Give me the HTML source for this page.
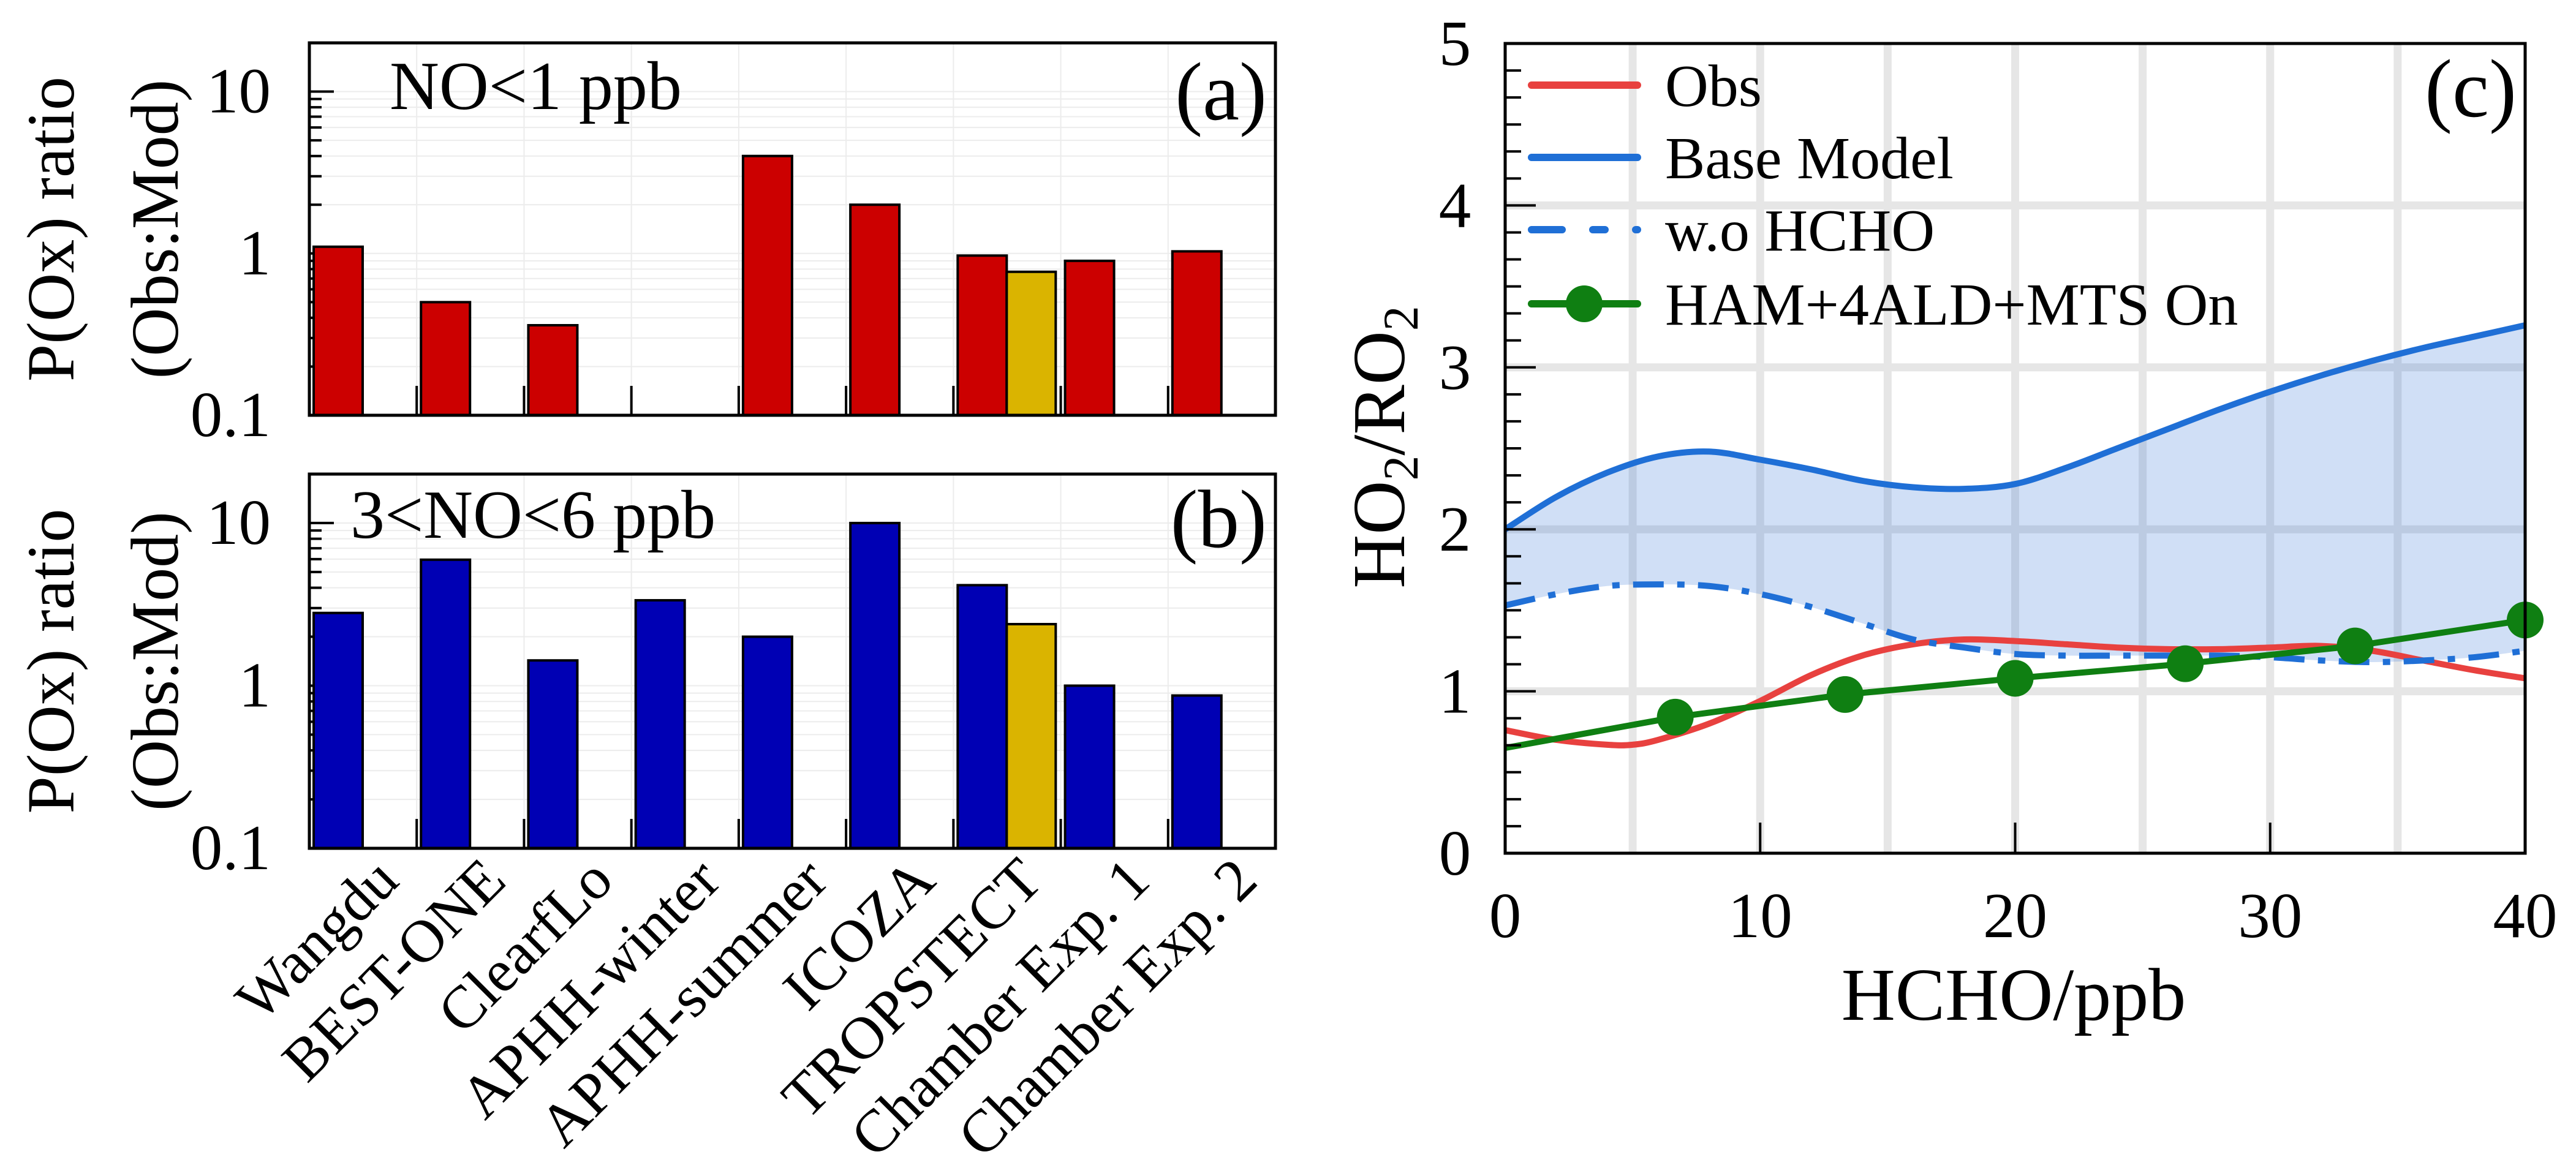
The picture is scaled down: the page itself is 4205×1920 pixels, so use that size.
<!DOCTYPE html>
<html><head><meta charset="utf-8"><style>
html,body{margin:0;padding:0;background:#fff;overflow:hidden}
svg{display:block;font-family:"Liberation Serif",serif}
</style></head><body>
<svg id="c" width="4205" height="1920" viewBox="0 0 4205 1920" xmlns="http://www.w3.org/2000/svg"></svg>
<script>
const categories=["Wangdu","BEST-ONE","ClearfLo","APHH-winter","APHH-summer","ICOZA","TROPSTECT","Chamber Exp. 1","Chamber Exp. 2"];
const ratioLowNO=[1.1,0.5,0.36,null,4.0,2.0,0.97,0.9,1.03];
const ratioMidNO=[2.8,5.95,1.43,3.35,2.0,10,4.15,1.0,0.87];
const extraLowNO=[null,null,null,null,null,null,0.77,null,null];
const extraMidNO=[null,null,null,null,null,null,2.39,null,null];
const logTicks=[0.1,1,10];
const logTickLabels=["0.1","1","10"];

const hchoX=[0,2,4,6,8,10,12,14,16,18,20,22,24,26,28,30,32,34,36,38,40];
const baseModel=[2.0,2.2,2.35,2.45,2.48,2.43,2.37,2.3,2.26,2.25,2.28,2.38,2.5,2.62,2.74,2.85,2.95,3.04,3.12,3.19,3.26];
const woHCHO=[1.53,1.6,1.65,1.66,1.65,1.6,1.52,1.42,1.32,1.27,1.23,1.22,1.22,1.22,1.22,1.21,1.19,1.18,1.19,1.21,1.25];
const obsX=[0,2,4,5,6,8,10,12,14,16,18,20,22,24,26,28,30,32,34,36,38,40];
const obsY=[0.76,0.7,0.67,0.67,0.7,0.8,0.94,1.1,1.22,1.29,1.32,1.31,1.29,1.27,1.26,1.26,1.27,1.28,1.25,1.19,1.13,1.08];
const hamX=[0,6.67,13.33,20,26.67,33.33,40];
const hamY=[0.65,0.84,0.98,1.08,1.17,1.28,1.44];
const xTicks=[0,10,20,30,40];
const yTicks=[0,1,2,3,4,5];

const NS="http://www.w3.org/2000/svg";
const svg=document.getElementById('c');
function mk(tag,attrs,parent){const e=document.createElementNS(NS,tag);for(const k in attrs)e.setAttribute(k,attrs[k]);(parent||svg).appendChild(e);return e;}
function txt(s,attrs,parent){const e=mk('text',attrs,parent);e.textContent=s;return e;}

// ---- bar panels ----
const PL=505,PR=2082;
const catW=(PR-PL)/categories.length;
function barPanel(pTop,pBot,vals,extra,color,label,tag,name,lx,ly,ty){
  const g=mk('g',{});
  
  
  const dec=(pBot-pTop)/Math.log10(200);
  const y=v=>pBot-(Math.log10(v)+1)*dec;
  for(let d=-1;d<=1;d++){for(let m=1;m<=9;m++){const v=m*Math.pow(10,d);if(v>20)break;const yy=y(v);
    mk('line',{x1:PL,x2:PR,y1:yy,y2:yy,stroke:'#ececec','stroke-width':2},g);
    const len=m===1?40:20;
    if(v>0.1)mk('line',{x1:PL,x2:PL+len,y1:yy,y2:yy,stroke:'#000','stroke-width':4},g);}}
  for(let i=1;i<categories.length;i++){const xx=PL+i*catW;
    mk('line',{x1:xx,x2:xx,y1:pTop,y2:pBot,stroke:'#ececec','stroke-width':2},g);
    mk('line',{x1:xx,x2:xx,y1:pBot,y2:pBot-48,stroke:'#000','stroke-width':4},g);}
  const bw=80;
  vals.forEach((v,i)=>{if(v==null)return;const x0=PL+i*catW+7;
    const r=mk('rect',{x:x0,y:y(v),width:bw,height:pBot-y(v),fill:color,stroke:'#000','stroke-width':4},g);
    
    });
  extra.forEach((v,i)=>{if(v==null)return;const x0=PL+i*catW+7+bw;
    const r=mk('rect',{x:x0,y:y(v),width:bw,height:pBot-y(v),fill:'#dab400',stroke:'#000','stroke-width':4},g);
    
    });
  mk('rect',{x:PL,y:pTop,width:PR-PL,height:pBot-pTop,fill:'none',stroke:'#000','stroke-width':5},g);
  logTicks.forEach((t,i)=>{const e=txt(logTickLabels[i],{x:442,y:y(t)+34,'font-size':105,'text-anchor':'end'},g);
    });
  const c=(pTop+pBot)/2;
  let e=txt('P(Ox) ratio',{x:0,y:0,'font-size':110,'text-anchor':'middle',transform:`translate(120,${c}) rotate(-90)`},g);
  
  e=txt('(Obs:Mod)',{x:0,y:0,'font-size':110,'text-anchor':'middle',transform:`translate(290,${c}) rotate(-90)`},g);
  
  e=txt(label,{x:lx,y:ly,'font-size':112},g);
  
  e=txt(tag,{x:PR-14,y:ty,'font-size':135,'text-anchor':'end'},g);
  
}
barPanel(70,678,ratioLowNO,extraLowNO,'#cc0000','NO<1 ppb','(a)','panel-a',636,178,195);
barPanel(774,1385,ratioMidNO,extraMidNO,'#0000b4','3<NO<6 ppb','(b)','panel-b',572,878,893);
categories.forEach((c,i)=>{const cx=PL+i*catW+catW/2+62;
  const e=txt(c,{x:0,y:0,'font-size':98,'text-anchor':'end',transform:`translate(${cx},1442) rotate(-45)`});
  });

// ---- panel c ----
const CL=2457,CR=4122,CT=71,CB=1393;
const sx=v=>CL+v/40*(CR-CL), sy=v=>CB-v/5*(CB-CT);
const gc=mk('g',{});


for(let v=5;v<40;v+=5)mk('line',{x1:sx(v),x2:sx(v),y1:CT,y2:CB,stroke:'#e6e6e6','stroke-width':13},gc);
for(let v=1;v<5;v++)mk('line',{x1:CL,x2:CR,y1:sy(v),y2:sy(v),stroke:'#e6e6e6','stroke-width':13},gc);
function smooth(xs,ys){const p=xs.map((x,i)=>[sx(x),sy(ys[i])]);let d=`M${p[0][0]},${p[0][1]}`;
  for(let i=0;i<p.length-1;i++){const p0=p[i-1]||p[i],p1=p[i],p2=p[i+1],p3=p[i+2]||p2;
    d+=` C${p1[0]+(p2[0]-p0[0])/6},${p1[1]+(p2[1]-p0[1])/6} ${p2[0]-(p3[0]-p1[0])/6},${p2[1]-(p3[1]-p1[1])/6} ${p2[0]},${p2[1]}`;}return d;}
const basePath=smooth(hchoX,baseModel);
const botRev=smooth(hchoX.slice().reverse(),woHCHO.slice().reverse()).replace(/^M/,'L');
let e=mk('path',{d:basePath+' '+botRev+' Z',fill:'rgba(40,110,215,0.22)',stroke:'none'},gc);

e=mk('path',{d:smooth(obsX,obsY),fill:'none',stroke:'#e8413f','stroke-width':10},gc);

e=mk('path',{d:basePath,fill:'none',stroke:'#1f6fd6','stroke-width':10},gc);

e=mk('path',{d:smooth(hchoX,woHCHO),fill:'none',stroke:'#1f6fd6','stroke-width':10,'stroke-dasharray':'50 22 12 22'},gc);

e=mk('polyline',{points:hamX.map((x,i)=>sx(x)+','+sy(hamY[i])).join(' '),fill:'none',stroke:'#0f7f12','stroke-width':10},gc);

hamX.forEach((x,i)=>{if(i===0)return;const m=mk('circle',{cx:sx(x),cy:sy(hamY[i]),r:30,fill:'#0f7f12'},gc);
  });
for(let k=1;k<30;k++){const v=k/6;const len=(k%6===0)?50:26;
  mk('line',{x1:CL,x2:CL+len,y1:sy(v),y2:sy(v),stroke:'#000','stroke-width':4},gc);}
[10,20,30].forEach(v=>mk('line',{x1:sx(v),x2:sx(v),y1:CB,y2:CB-50,stroke:'#000','stroke-width':4},gc));
mk('rect',{x:CL,y:CT,width:CR-CL,height:CB-CT,fill:'none',stroke:'#000','stroke-width':5},gc);
yTicks.forEach(v=>{const t=txt(String(v),{x:2375,y:sy(v)+35,'font-size':105,'text-anchor':'middle'},gc);
  });
xTicks.forEach(v=>{const t=txt(String(v),{x:sx(v),y:1530,'font-size':105,'text-anchor':'middle'},gc);
  });
e=txt('HCHO/ppb',{x:3287,y:1665,'font-size':122,'text-anchor':'middle'},gc);

e=mk('text',{x:0,y:0,'font-size':122,'text-anchor':'middle',transform:'translate(2292,730) rotate(-90)'},gc);
e.innerHTML='HO<tspan font-size="82" dy="22">2</tspan><tspan dy="-22">/RO</tspan><tspan font-size="82" dy="22">2</tspan>';

e=txt('(c)',{x:4108,y:190,'font-size':135,'text-anchor':'end'},gc);

const lg=mk('g',{},gc);


const legNames=['Obs','Base Model','w.o HCHO','HAM+4ALD+MTS On'];
const legY=[139,257,375,496];
legNames.forEach((n,i)=>{const y=legY[i];
  const col=i===0?'#e8413f':(i===3?'#0f7f12':'#1f6fd6');
  const a={x1:2500,x2:2673,y1:y,y2:y,stroke:col,'stroke-width':12,'stroke-linecap':'round'};
  if(i===2)a['stroke-dasharray']='50 50 20 50';
  mk('line',a,lg);
  if(i===3)mk('circle',{cx:2586,cy:y,r:30,fill:col},lg);
  const t=txt(n,{x:2718,y:y+34,'font-size':98},lg);
  });
</script>
</body></html>
